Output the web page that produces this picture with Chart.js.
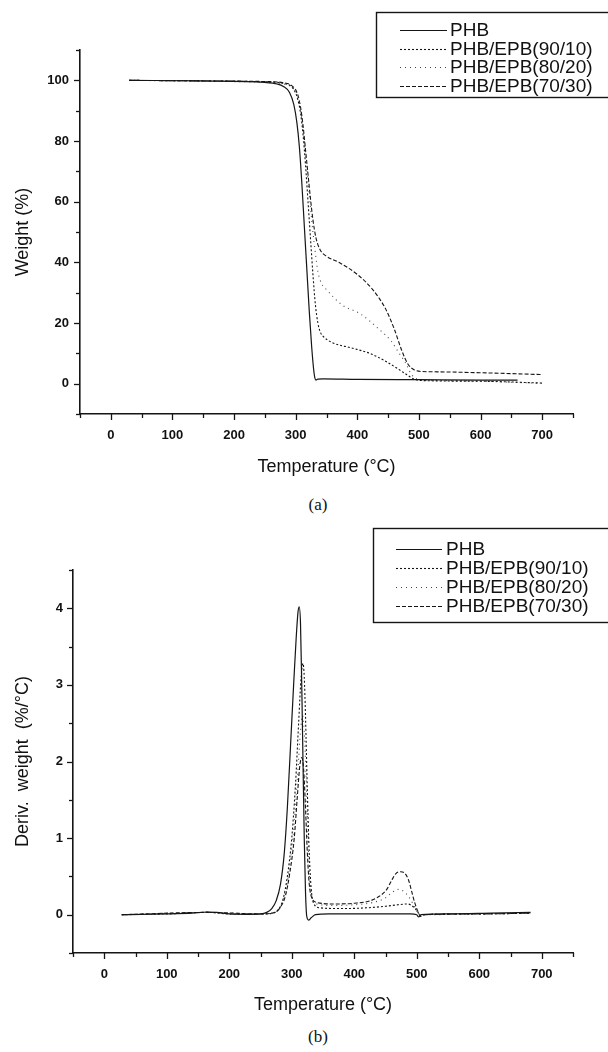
<!DOCTYPE html>
<html><head><meta charset="utf-8">
<script src="https://cdn.jsdelivr.net/npm/chart.js@4/dist/chart.umd.min.js"></script>
<style>
html,body{margin:0;padding:0;background:#fff;width:608px;height:1052px;overflow:hidden;}
.wrap{position:absolute;left:0;width:608px;}
canvas{display:block;}
.cap{position:absolute;font-family:"Liberation Serif","Times New Roman",serif;font-size:17px;color:#111;text-align:center;width:60px;line-height:20px;}
</style></head><body>
<div class="wrap" style="top:0;height:480px"><canvas id="c1" width="608" height="480" style="width:608px;height:480px"></canvas></div>
<div class="cap" style="left:288px;top:495px">(a)</div>
<div class="wrap" style="top:520px;height:500px"><canvas id="c2" width="608" height="500" style="width:608px;height:500px"></canvas></div>
<div class="cap" style="left:288px;top:1027px">(b)</div>
<script>
// ---------- DATA ----------
const seriesNames = ['PHB','PHB/EPB(90/10)','PHB/EPB(80/20)','PHB/EPB(70/30)'];
const xTickLabels = [0,100,200,300,400,500,600,700];
const yTickLabelsA = [0,20,40,60,80,100];
const yTickLabelsB = [0,1,2,3,4];

// (a) TGA: [temperature, weight %]
const tgaPHB = [[30,100],[150,99.8],[250,99.3],[270,98.8],[280,98],[290,96],[297,92],[302,86],[306,78],[310,66],[314,52],[318,38],[322,24],[326,12],[329,5],[331,2],[333,1.2],[336,1.5],[345,1.6],[400,1.4],[500,1.3],[600,1.2],[660,1.2]];
const tga9010 = [[30,100],[150,99.8],[250,99.5],[280,99],[295,97.5],[303,94],[308,89],[312,82],[316,72],[320,60],[324,48],[328,36],[332,26],[336,20],[340,17],[345,15.5],[360,13.5],[390,11.8],[420,10],[445,7.5],[465,5],[480,3],[492,1.5],[510,1.0],[600,0.8],[700,0.2]];
const tga8020 = [[30,100],[150,99.7],[250,99.3],[280,98.8],[295,97.5],[303,95],[308,90],[312,84],[316,76],[320,67],[324,58],[328,50],[332,43],[336,37],[342,33],[350,31],[375,26],[405,23],[435,18],[455,14],[468,10],[478,7],[488,3],[498,1.5],[550,1.0],[600,0.8],[700,0.1]];
const tga7030 = [[30,100],[150,99.8],[250,99.6],[280,99.2],[295,98],[303,95.5],[308,91],[312,85],[316,77],[320,69],[324,61],[328,54],[333,48],[340,44],[350,42],[370,40],[400,36],[425,31],[445,25],[460,18],[472,11],[482,6.5],[492,4.6],[505,4.0],[530,3.9],[600,3.6],[700,3.0]];

// (b) DTG: [temperature, deriv. weight %/°C]
const dtgPHB = [[28,0],[60,0.005],[100,0.01],[140,0.02],[165,0.035],[180,0.03],[200,0.01],[230,0.005],[250,0.01],[260,0.03],[268,0.08],[275,0.18],[282,0.4],[288,0.8],[293,1.4],[298,2.2],[303,3.0],[307,3.6],[310,3.95],[312,4.02],[314,3.8],[316,3.0],[318,2.0],[320,1.0],[322,0.3],[324,-0.02],[327,-0.07],[331,-0.04],[338,0.0],[360,0.01],[420,0.01],[490,0.01],[500,0.0],[503,-0.03],[507,0.0],[550,0.01],[620,0.02],[682,0.03]];
const dtg9010 = [[28,0],[100,0.01],[165,0.03],[200,0.01],[250,0.01],[270,0.02],[278,0.06],[286,0.2],[293,0.5],[300,1.0],[306,1.7],[311,2.5],[315,3.1],[318,3.28],[320,3.1],[322,2.6],[325,1.6],[328,0.8],[331,0.35],[335,0.15],[345,0.09],[380,0.08],[420,0.09],[450,0.11],[470,0.13],[485,0.14],[495,0.1],[502,0.03],[506,-0.02],[512,0.0],[600,0.01],[682,0.02]];
const dtg8020 = [[28,0],[165,0.03],[250,0.01],[272,0.03],[282,0.1],[290,0.3],[297,0.65],[304,1.2],[310,1.9],[314,2.4],[317,2.6],[320,2.4],[323,1.8],[326,1.0],[329,0.45],[333,0.22],[340,0.14],[370,0.12],[400,0.13],[430,0.16],[450,0.22],[462,0.3],[470,0.33],[480,0.3],[490,0.2],[498,0.08],[504,0.0],[510,0.0],[600,0.01],[682,0.02]];
const dtg7030 = [[28,0],[165,0.03],[250,0.01],[272,0.03],[282,0.1],[290,0.25],[297,0.55],[304,1.0],[309,1.55],[313,1.95],[316,2.05],[319,1.9],[322,1.4],[325,0.8],[328,0.4],[332,0.22],[340,0.16],[370,0.14],[400,0.15],[425,0.18],[440,0.24],[452,0.33],[460,0.45],[467,0.54],[474,0.56],[481,0.54],[487,0.45],[492,0.3],[497,0.15],[502,0.04],[506,-0.02],[512,0.0],[600,0.01],[682,0.02]];

// ---------- STYLE ----------
const INK = '#151515';
const styles = [
  {borderDash:[], borderWidth:1.2, borderColor:INK},
  {borderDash:[2,2], borderWidth:1.1, borderColor:INK},
  {borderDash:[1,4], borderWidth:1.1, borderColor:'#444'},
  {borderDash:[4,2], borderWidth:1.1, borderColor:INK}
];
const SANS = '"Liberation Sans", Arial, sans-serif';

function range(a,b,s){const r=[];for(let v=a;v<=b+1e-9;v+=s)r.push(Math.round(v*1000)/1000);return r;}

function originPlugin(cfg){
  return {
    id:'origin',
    afterDraw(chart){
      const ctx=chart.ctx, xs=chart.scales.x, ys=chart.scales.y;
      ctx.save();
      ctx.strokeStyle=INK; ctx.lineWidth=1.3; ctx.setLineDash([]);
      xs.ticks.forEach(t=>{
        const px=Math.round(xs.getPixelForValue(t.value))+0.5;
        const major=cfg.xMajor.includes(t.value);
        ctx.beginPath(); ctx.moveTo(px,xs.top); ctx.lineTo(px,xs.top+(major?6:4)); ctx.stroke();
      });
      ys.ticks.forEach(t=>{
        const py=Math.round(ys.getPixelForValue(t.value))+0.5;
        const major=cfg.yMajor.includes(t.value);
        ctx.beginPath(); ctx.moveTo(ys.right,py); ctx.lineTo(ys.right-(major?6:4),py); ctx.stroke();
      });
      // legend
      const L=cfg.legend;
      ctx.lineWidth=1.4; ctx.strokeStyle=INK;
      ctx.strokeRect(L.x+0.5,L.y+0.5,400,L.h);
      ctx.font='19px '+SANS; ctx.fillStyle='#111'; ctx.textBaseline='middle'; ctx.textAlign='left';
      chart.data.datasets.forEach((ds,i)=>{
        const y=Math.round(L.y+L.first+i*L.step);
        ctx.save();
        ctx.strokeStyle=ds.borderColor; ctx.lineWidth=ds.borderWidth; ctx.setLineDash(ds.borderDash||[]);
        ctx.beginPath(); ctx.moveTo(L.lx1,y+0.5); ctx.lineTo(L.lx2,y+0.5); ctx.stroke();
        ctx.restore();
        ctx.fillText(ds.label,L.tx,y+1);
      });
      ctx.restore();
    }
  };
}

function makeChart(id, sets, o){
  const datasets = sets.map((d,i)=>Object.assign({
    label: seriesNames[i],
    data: d.map(([x,y])=>({x,y})),
    pointRadius:0, fill:false, cubicInterpolationMode:'monotone'
  }, styles[i]));
  return new Chart(document.getElementById(id), {
    type:'line',
    data:{datasets},
    options:{
      responsive:false, animation:false, devicePixelRatio:1,
      layout:{padding:{top:o.top,right:o.right,left:0,bottom:0}},
      plugins:{legend:{display:false},tooltip:{enabled:false}},
      scales:{
        x:{type:'linear',min:-50,max:750,
          afterBuildTicks:s=>{s.ticks=range(-50,750,50).map(v=>({value:v}));},
          afterFit:s=>{s.height=o.xh;},
          grid:{display:false,drawTicks:false,tickLength:0},
          border:{display:true,color:INK,width:1.6},
          ticks:{autoSkip:false,maxRotation:0,padding:o.xpad,color:'#111',font:{family:SANS,size:13,weight:'bold'},
            callback:v=>xTickLabels.includes(v)?String(v):''},
          title:{display:true,text:'Temperature (\u00B0C)',color:'#111',font:{family:SANS,size:18},padding:{top:0,bottom:o.xtpad}}
        },
        y:{type:'linear',min:o.ymin,max:o.ymax,
          afterBuildTicks:s=>{s.ticks=range(o.ymin,o.ymax,o.ystep).map(v=>({value:v}));},
          afterFit:s=>{s.width=o.left;},
          grid:{display:false,drawTicks:false,tickLength:0},
          border:{display:true,color:INK,width:1.6},
          ticks:{autoSkip:false,padding:o.ypad,color:'#111',font:{family:SANS,size:13,weight:'bold'},
            callback:v=>o.yLabels.includes(v)?String(v):''},
          title:{display:true,text:o.ytitle,color:'#111',font:{family:SANS,size:18},padding:{top:12,bottom:0}}
        }
      }
    },
    plugins:[originPlugin({xMajor:xTickLabels,yMajor:o.yLabels,legend:o.legend})]
  });
}

makeChart('c1',[tgaPHB,tga9010,tga8020,tga7030],{
  top:50,right:35,left:80,xh:66,xpad:14,xtpad:2,ymin:-10,ymax:110,ystep:10,yLabels:yTickLabelsA,ypad:11,
  ytitle:'Weight (%)',
  legend:{x:376,y:12,h:85,first:18,step:18.7,lx1:400,lx2:447,tx:450}
});
makeChart('c2',[dtgPHB,dtg9010,dtg8020,dtg7030],{
  top:50,right:35,left:73,xh:67,xpad:14,xtpad:4,ymin:-0.5,ymax:4.5,ystep:0.5,yLabels:yTickLabelsB,ypad:10,
  ytitle:'Deriv.  weight  (%/\u00B0C)',
  legend:{x:373,y:8,h:94,first:21,step:19,lx1:396,lx2:442,tx:446}
});
</script>
</body></html>
